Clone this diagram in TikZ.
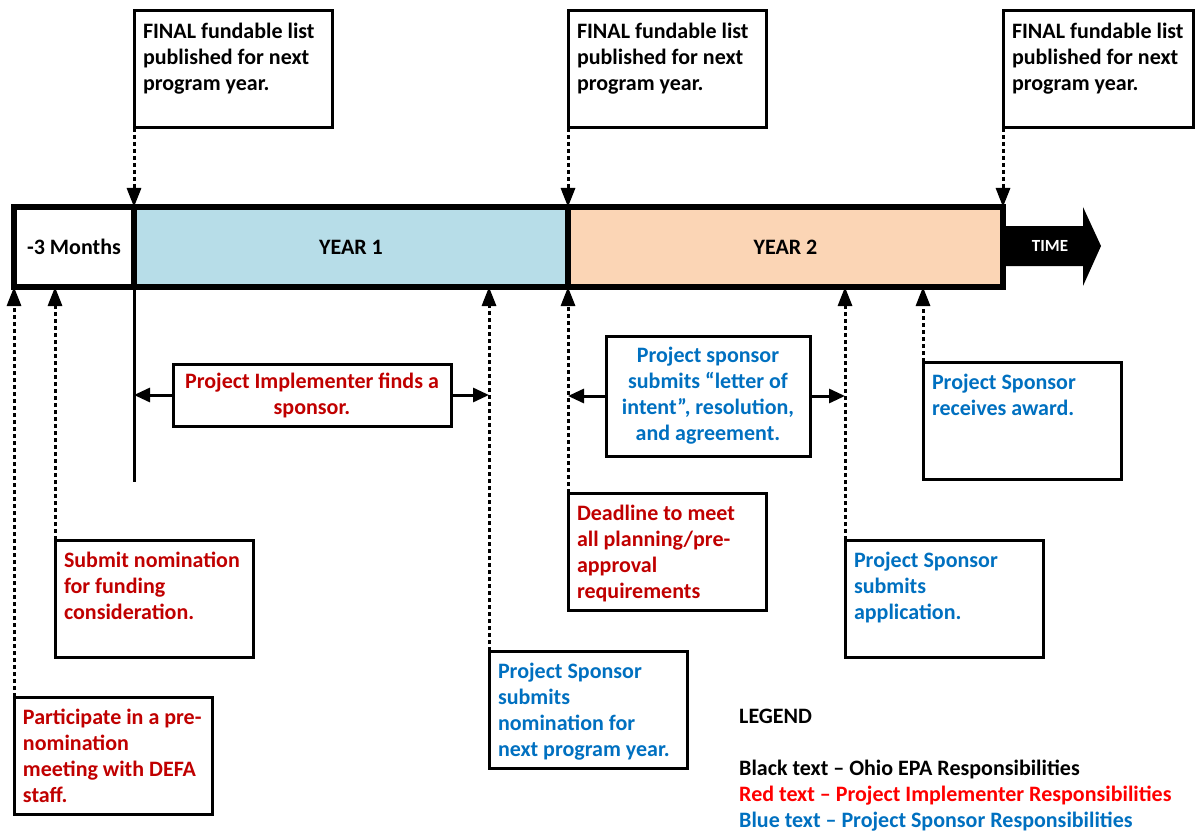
\documentclass[tikz,border=0pt]{standalone}
\usepackage{fontspec}
\setmainfont{Carlito}
\usetikzlibrary{arrows.meta}
\definecolor{implred}{HTML}{C00000}
\definecolor{legred}{HTML}{FF0000}
\definecolor{sponblue}{HTML}{0070C0}
\definecolor{yearone}{HTML}{B7DDE8}
\definecolor{yeartwo}{HTML}{FBD5B5}
\newcommand{\evtext}[2][180pt]{\parbox[c][99pt][t]{#1}{\raggedright\strut #2}}

\begin{document}
\begin{tikzpicture}[x=1pt,y=-1pt,
        font=\fontsize{22}{26}\selectfont\bfseries,
        evbox/.style={draw,line width=3pt,anchor=north west,inner sep=9pt,outer sep=0pt},
        barpart/.style={draw,line width=6pt,anchor=north west,inner sep=0pt,outer sep=0pt,minimum height=80pt},
        dasharrow/.style={line width=3pt,dash pattern=on 4pt off 3pt,-{Triangle[length=19pt,width=14pt]}},
        spanarrow/.style={line width=3pt,-{Triangle[length=16pt,width=14pt]}}]
        \useasboundingbox (0,0) rectangle (1195,832);

        % time line
        \node[barpart,minimum width=120pt] (months) at (14,207) {-3 Months};
        \node[barpart,fill=yearone,minimum width=434pt] (year1) at (134,207) {YEAR 1};
        \node[barpart,fill=yeartwo,minimum width=435pt] (year2) at (568,207) {YEAR 2};
        \fill (1003,226) -- (1083,226) -- (1083,207) -- (1101,246) -- (1083,286) -- (1083,266) -- (1003,266) -- cycle;
        \node[text=white,font=\fontsize{17}{20}\selectfont\bfseries] (time) at (1050,246) {TIME};
        \coordinate (yline) at (134,482);
        \draw[line width=3pt] (months.south east) -- (yline);

        % Ohio EPA
        \node[evbox] (final1) at (134,11) {\evtext{FINAL fundable list\\ published for next\\ program year.}};
        \node[evbox] (final2) at (568,11) {\evtext{FINAL fundable list\\ published for next\\ program year.}};
        \node[evbox] (final3) at (1003,11) {\evtext[172pt]{FINAL fundable list\\ published for next\\ program year.}};

        % implementer
        \node[evbox,text=implred] (pre) at (14,697) {\evtext{Participate in a pre-\\ nomination\\ meeting with DEFA\\ staff.}};
        \node[evbox,text=implred] (nom) at (55,540) {\evtext{Submit nomination\\ for funding\\ consideration.}};
        \node[evbox,text=implred] (dead) at (568,493) {\evtext{Deadline to meet\\ all planning/pre-\\ approval\\ requirements}};
        \node[draw,line width=3pt,text=implred,align=center,minimum width=278pt,minimum height=62pt] (find) at (312,395) {Project Implementer finds a\\ sponsor.};

        % sponsor
        \node[evbox,text=sponblue] (spnom) at (489,651) {\evtext{Project Sponsor\\ submits\\ nomination for\\ next program year.}};
        \node[evbox,text=sponblue] (app) at (845,540) {\evtext{Project Sponsor\\ submits\\ application.}};
        \node[evbox,text=sponblue] (award) at (923,362) {\evtext{Project Sponsor\\ receives award.}};
        \node[draw,line width=3pt,text=sponblue,align=center,minimum width=204pt,minimum height=120pt] (loi) at (708,396) {Project sponsor\\ submits “letter of\\ intent”, resolution,\\ and agreement.};

        \draw[dasharrow] (final1.south west) -- (months.north east);
        \draw[dasharrow] (final2.south west) -- (year2.north west);
        \draw[dasharrow] (final3.south west) -- (year2.north east);
        \draw[dasharrow] (pre.north west) -- (months.south west);
        \draw[dasharrow] (nom.north west) -- (nom.north west |- months.south);
        \draw[dasharrow] (spnom.north west) -- (spnom.north west |- year1.south);
        \draw[dasharrow] (dead.north west) -- (year2.south west);
        \draw[dasharrow] (app.north west) -- (app.north west |- year2.south);
        \draw[dasharrow] (award.north west) -- (award.north west |- year2.south);

        \draw[spanarrow] (find.west) -- (find.west -| yline);
        \draw[spanarrow] (find.east) -- (find.east -| spnom.north west);
        \draw[spanarrow] (loi.west) -- (loi.west -| dead.north west);
        \draw[spanarrow] (loi.east) -- (loi.east -| app.north west);

        % legend
        \node[anchor=base west,inner sep=0pt] (legend) at (739,723) {LEGEND};
        \node[anchor=base west,inner sep=0pt] (lblack) at (739,775) {Black text – Ohio EPA Responsibilities};
        \node[anchor=base west,inner sep=0pt,text=legred] (lred) at (739,801) {Red text – Project Implementer Responsibilities};
        \node[anchor=base west,inner sep=0pt,text=sponblue] (lblue) at (739,827) {Blue text – Project Sponsor Responsibilities};
\end{tikzpicture}
\end{document}
